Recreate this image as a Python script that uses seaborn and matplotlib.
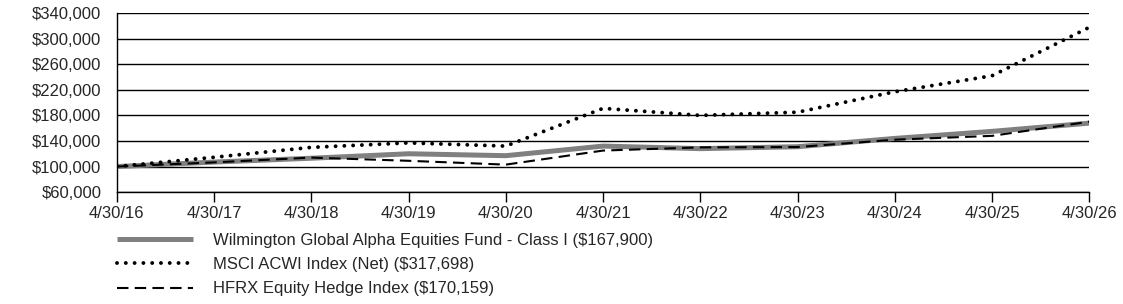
import matplotlib
matplotlib.use("Agg")
import matplotlib.pyplot as plt
import seaborn as sns
import pandas as pd
from matplotlib.ticker import FuncFormatter

years = ["4/30/16", "4/30/17", "4/30/18", "4/30/19", "4/30/20", "4/30/21",
         "4/30/22", "4/30/23", "4/30/24", "4/30/25", "4/30/26"]
fund = [100000, 107000, 113000, 120000, 117000, 132000, 128000, 131000, 144000, 155000, 167900]
msci = [100000, 114500, 130000, 137000, 132000, 191000, 180000, 185000, 217000, 242000, 317698]
hfrx = [100000, 106500, 114000, 109000, 103000, 125000, 130000, 130500, 142000, 148000, 170159]

labels = ["Wilmington Global Alpha Equities Fund - Class I ($167,900)",
          "MSCI ACWI Index (Net) ($317,698)",
          "HFRX Equity Hedge Index ($170,159)"]

df = pd.DataFrame({"x": range(len(years)), "fund": fund, "msci": msci, "hfrx": hfrx})

sns.set_style("white")
plt.rcParams["font.family"] = ["Liberation Sans", "DejaVu Sans"]

fig = plt.figure(figsize=(11.23, 3.04), dpi=100)
ax = fig.add_axes([0.104, 0.368, 0.866, 0.589])

sns.lineplot(data=df, x="x", y="fund", ax=ax, color="#808080", lw=3.6,
             label=labels[0], solid_capstyle="butt")
sns.lineplot(data=df, x="x", y="msci", ax=ax, color="black", lw=2.8,
             label=labels[1], linestyle=(0, (0.01, 2.25)), dash_capstyle="round")
sns.lineplot(data=df, x="x", y="hfrx", ax=ax, color="black", lw=1.5,
             label=labels[2], linestyle=(0, (5.5, 3)))

ax.set_ylim(60000, 340000)
ax.set_yticks(range(60000, 340001, 40000))
ax.yaxis.set_major_formatter(FuncFormatter(lambda v, p: f"${v:,.0f}"))
ax.set_xlim(0, len(years) - 1)
ax.set_xticks(range(len(years)))
ax.set_xticklabels(years)
ax.grid(axis="y", color="black", lw=1)
ax.set_axisbelow(True)
ax.set_xlabel("")
ax.set_ylabel("")
for s in ["top", "right"]:
    ax.spines[s].set_visible(False)
ax.spines["left"].set_color("black")
ax.spines["bottom"].set_color("black")
ax.spines["left"].set_linewidth(1)
ax.spines["bottom"].set_linewidth(1)
ax.tick_params(axis="x", direction="out", length=7, width=1, color="black",
               labelsize=12, pad=3, bottom=True)
ax.tick_params(axis="y", length=0, labelsize=12, pad=11)

ax.get_legend().remove()
h, l = ax.get_legend_handles_labels()
fig.legend(h, l, loc="upper left", bbox_to_anchor=(0.098, 0.255), frameon=False,
           fontsize=12, handlelength=4.55, handletextpad=1.2, labelspacing=0.55,
           borderaxespad=0)

fig.savefig("out.png", dpi=100)
